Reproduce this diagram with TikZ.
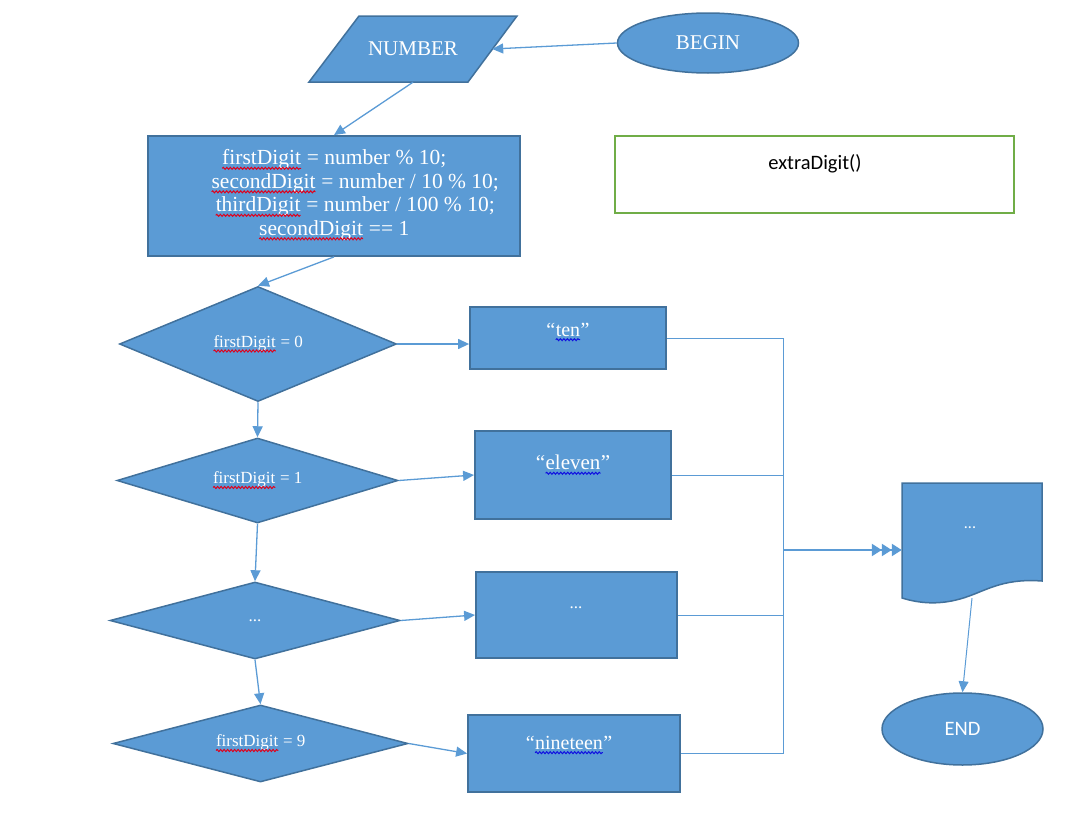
\documentclass[tikz,border=0pt]{standalone}
\usepackage{fontspec}
\setmainfont{Liberation Serif}
\newfontfamily\calibri{Carlito}
\usetikzlibrary{positioning,shapes.geometric,arrows.meta,decorations.pathmorphing}
\definecolor{boxfill}{HTML}{5B9BD5}
\definecolor{boxline}{HTML}{41719C}
\definecolor{okgreen}{HTML}{70AD47}
\definecolor{spellred}{HTML}{E0001B}
\definecolor{spellblue}{HTML}{1010E0}
\newcommand\spellwave[2]{\tikz[baseline=(w.base),x=1cm,y=1cm]{%
  \node[rectangle,minimum width=0pt,minimum height=0pt,inner sep=0pt,outer sep=0pt,draw=none,fill=none,text=white] (w) {#2};
  \draw[#1,line width=1pt,decorate,decoration={snake,amplitude=1pt,segment length=3.5pt}]
    ([yshift=-3.5pt]w.base west) -- ([yshift=-3.5pt]w.base east);}}
\newcommand\redwave[1]{\spellwave{spellred}{#1}}
\newcommand\bluewave[1]{\spellwave{spellblue}{#1}}
\tikzset{%
  flowbox/.style={
    rectangle,
    draw=boxline,
    fill=boxfill,
    line width=1.8pt
  },
  flowround/.style={
    ellipse,
    draw=boxline,
    fill=boxfill,
    line width=1.5pt,
    text=white
  },
  flowdiamond/.style={
    diamond,
    shape aspect=4,
    draw=boxline,
    fill=boxfill,
    line width=1.5pt,
    inner sep=0pt,
    text=white,
    font=\fontsize{17}{20}\selectfont
  },
  flowtext/.style={text=white, inner sep=0pt},
}

\begin{document}
\begin{tikzpicture}[x=1pt,y=-1pt,>={Triangle[length=11pt,width=10pt]},font=\fontsize{20}{24}\selectfont]
        \tikzstyle{link}=[->,draw=boxfill,line width=1.3pt]
        \tikzstyle{bus}=[draw=boxfill,line width=1pt]
        \useasboundingbox (0,0) rectangle (1072,827);

        \node[flowround,minimum width=181,minimum height=60,font=\fontsize{21}{24}\selectfont] (begin) at (708,43) {BEGIN};

        \filldraw[draw=boxline,fill=boxfill,line width=1.5pt]
          (309,82) -- (359,16) -- (517,16) -- (468,82) -- cycle;
        \node[flowtext,minimum width=158,minimum height=66,font=\fontsize{21}{24}\selectfont] (num) at (413,49) {NUMBER};

        \node[flowbox,minimum width=372,minimum height=120] (main) at (334,196) {};
        \node[flowtext,align=center,font=\fontsize{21.5}{23.5}\selectfont] (mainT) at (334,195)
          {\redwave{firstDigit} = number \% 10;\\
           \hspace*{42pt}\redwave{secondDigit} = number / 10 \% 10;\\
           \hspace*{42pt}\redwave{thirdDigit} = number / 100 \% 10;\\
           \redwave{secondDigit} == 1};

        \node[draw=okgreen,line width=1.5pt,fill=white,minimum width=399,minimum height=77] (extra) at (814.5,174.5) {};
        \node[inner sep=0pt,font=\calibri\fontsize{20.5}{24}\selectfont] (extraT) at (815,164) {extraDigit()};

        \node[flowdiamond,minimum width=277,minimum height=115] (d1) at (258,344) {\redwave{firstDigit} = 0};
        \node[flowdiamond,minimum width=281,minimum height=85] (d2) at (257.5,480.5) {\redwave{firstDigit} = 1};
        \node[flowdiamond,minimum width=290,minimum height=77] (d3) at (255,620.5) {...};
        \node[flowdiamond,minimum width=295,minimum height=77] (d4) at (260.5,743.5) {\redwave{firstDigit} = 9};

        \node[flowbox,minimum width=196,minimum height=62] (ten) at (568,338) {};
        \node[flowbox,minimum width=196,minimum height=88] (eleven) at (573,475) {};
        \node[flowbox,minimum width=201,minimum height=86] (more) at (576.5,615) {};
        \node[flowbox,minimum width=212,minimum height=77] (nineteen) at (574,753.5) {};
        \node[flowtext] (tenT) at (568,332) {“\bluewave{ten}”};
        \node[flowtext,font=\fontsize{21}{24}\selectfont] (elevenT) at (573,465) {“\bluewave{eleven}”};
        \node[flowtext,font=\fontsize{17}{20}\selectfont] (moreT) at (576,608) {...};
        \node[flowtext] (nineteenT) at (569,745) {“\bluewave{nineteen}”};

        \filldraw[draw=boxline,fill=boxfill,line width=1.5pt]
          (902,483) -- (1042,483) -- (1042,581)
          .. controls (1000,578) and (985,592) .. (960,599)
          .. controls (935,606) and (915,602) .. (902,598) -- cycle;
        \node[minimum width=140,minimum height=115] (doc) at (972,540.5) {};
        \node[flowtext,font=\calibri\fontsize{16}{19}\selectfont] (docT) at (970,528) {...};

        \node[flowround,minimum width=161,minimum height=72,font=\calibri\fontsize{20.5}{24}\selectfont] (end) at (962.5,729) {END};

        \draw[link] (begin.west) -- (num.east);
        \draw[link] (num.south) -- (main.north);
        \draw[link] (main.south) -- (d1.north);
        \draw[link] (d1.south) -- (d2.north);
        \draw[link] (d2.south) -- (d3.north);
        \draw[link] (d3.south) -- (d4.north);
        \draw[link] (d1.east) -- (d1.east -| ten.west);
        \draw[link] (d2.east) -- (eleven.west);
        \draw[link] (d3.east) -- (more.west);
        \draw[link] (d4.east) -- (nineteen.west);

        \coordinate (busTop) at (783,338);
        \coordinate (busEnd) at (783,753.5);
        \coordinate (busMid) at (783,550);
        \draw[bus] (ten.east) -- (busTop) -- (busEnd);
        \draw[bus] (eleven.east) -- (eleven.east -| busTop);
        \draw[bus] (more.east) -- (more.east -| busTop);
        \draw[bus] (nineteen.east) -- (busEnd);
        \draw[draw=boxfill,line width=2.2pt,-{Triangle[length=10pt,width=12pt]Triangle[length=10pt,width=12pt]Triangle[length=10pt,width=12pt]}]
          (busMid) -- (busMid -| doc.west);
        \draw[link,line width=1pt] (doc.south) -- (end.north);
    \end{tikzpicture}
\end{document}
